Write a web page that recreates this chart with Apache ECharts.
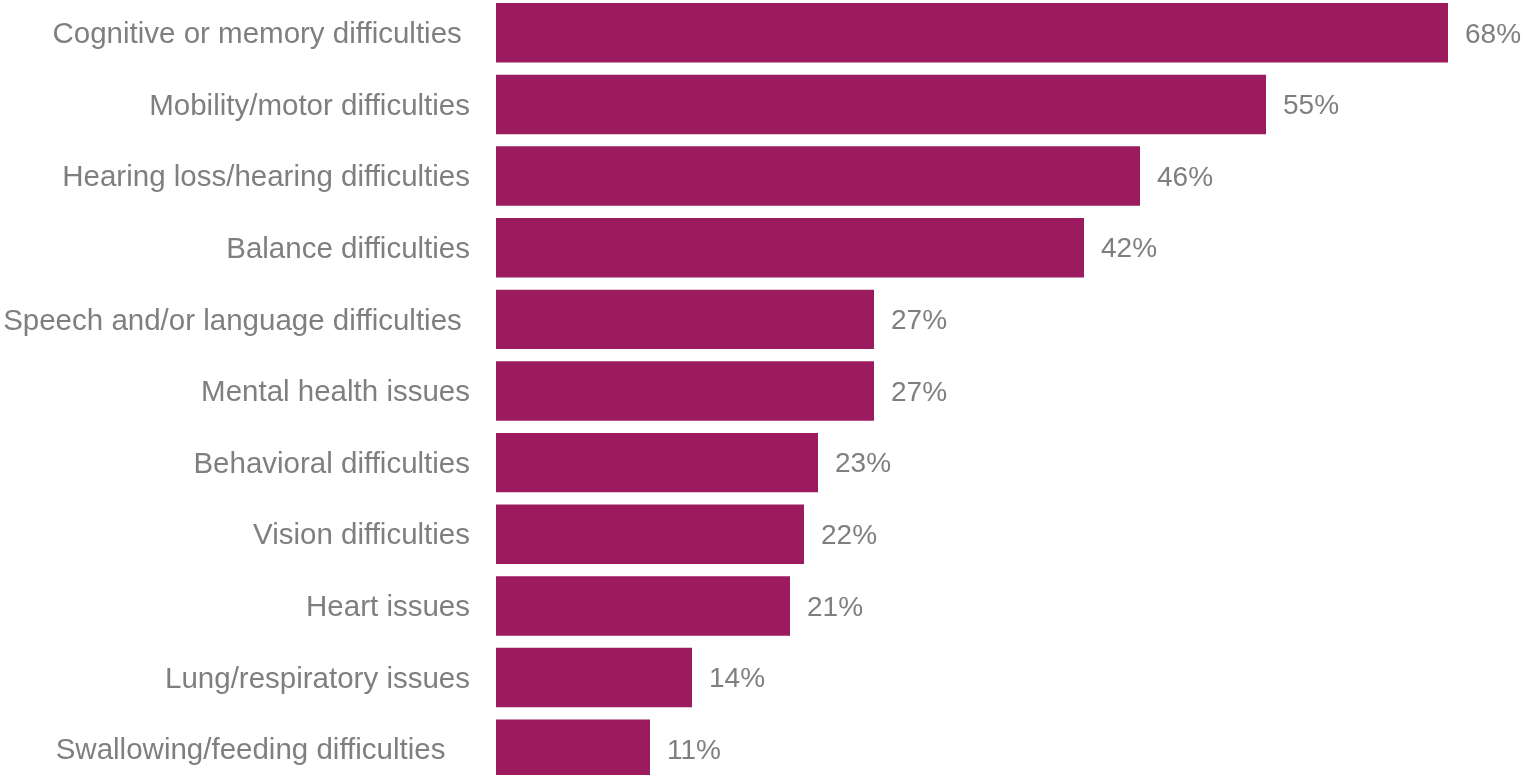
<!DOCTYPE html>
<html>
<head>
<meta charset="utf-8">
<script src="https://cdn.jsdelivr.net/npm/echarts@6/dist/echarts.min.js"></script>
<style>
  html, body { margin: 0; padding: 0; background: #ffffff; }
  #chart { width: 1521px; height: 775px; }
</style>
</head>
<body>
<div id="chart"></div>
<script>
// Conditions reported, top to bottom
const categories = [
  'Cognitive or memory difficulties ',
  'Mobility/motor difficulties',
  'Hearing loss/hearing difficulties',
  'Balance difficulties',
  'Speech and/or language difficulties ',
  'Mental health issues',
  'Behavioral difficulties',
  'Vision difficulties',
  'Heart issues',
  'Lung/respiratory issues',
  'Swallowing/feeding difficulties   '
];
// Share of respondents, percent
const values = [68, 55, 46, 42, 27, 27, 23, 22, 21, 14, 11];

const textColor = '#7f7f7f';
const barColor = '#9c1b5f';
const fontFamily = '"Liberation Sans", Arial, sans-serif';

const chart = echarts.init(document.getElementById('chart'), null, { renderer: 'canvas' });
chart.setOption({
  animation: false,
  backgroundColor: '#ffffff',
  grid: {
    left: 496, right: 0, top: -3, height: 788,
    containLabel: false,
    outerBoundsMode: 'none'
  },
  xAxis: {
    type: 'value',
    min: 0,
    max: 68 * (1521 - 496) / (1448 - 496),
    show: false
  },
  yAxis: {
    type: 'category',
    inverse: true,
    data: categories,
    axisLine: { show: false },
    axisTick: { show: false },
    splitLine: { show: false },
    axisLabel: {
      margin: 26,
      formatter: v => '{c|' + v + '}',
      rich: {
        c: {
          color: textColor,
          fontSize: 29.5,
          fontFamily: fontFamily,
          padding: [4, 0, 0, 0]
        }
      }
    }
  },
  series: [{
    type: 'bar',
    data: values,
    barCategoryGap: '17%',
    itemStyle: { color: barColor },
    label: {
      show: true,
      position: 'right',
      distance: 17,
      offset: [0, 2],
      color: textColor,
      fontSize: 28,
      fontFamily: fontFamily,
      formatter: p => p.value + '%'
    }
  }]
});
</script>
</body>
</html>
